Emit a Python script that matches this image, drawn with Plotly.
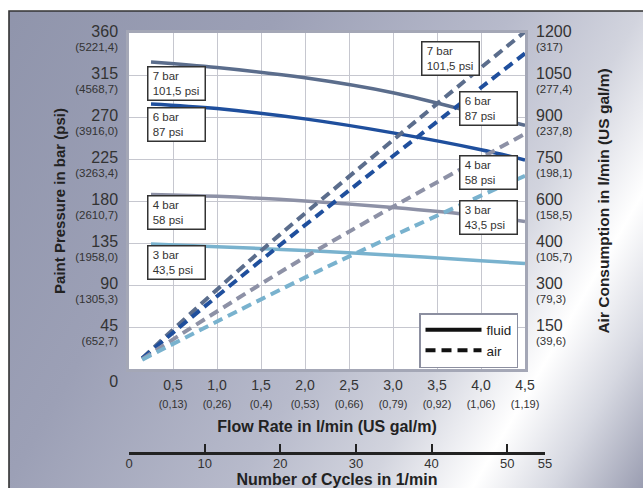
import base64
import plotly.graph_objects as go

# ---------------- data ----------------
flow_fluid = [0.25, 1.0, 2.0, 3.0, 4.0, 4.5]
fluid_7bar = [329, 323, 312, 296, 273, 261]
fluid_6bar = [284, 279, 268, 253, 235, 224]
fluid_4bar = [187, 185, 180, 173, 164, 158]
fluid_3bar = [134, 131, 127, 122, 116, 113]

air_7bar_x = [0.15, 1.4, 4.5]
air_7bar = [38, 395, 1205]
air_6bar_x = [0.15, 1.67, 4.5]
air_6bar = [38, 431, 1127]
air_4bar_x = [0.15, 2.01, 4.5]
air_4bar = [35, 401, 840]
air_3bar_x = [0.15, 2.18, 4.5]
air_3bar = [33, 354, 690]

flow_ticks = [0.5, 1.0, 1.5, 2.0, 2.5, 3.0, 3.5, 4.0, 4.5]
flow_main = ["0,5", "1,0", "1,5", "2,0", "2,5", "3,0", "3,5", "4,0", "4,5"]
flow_gal = ["(0,13)", "(0,26)", "(0,4)", "(0,53)", "(0,66)", "(0,79)", "(0,92)", "(1,06)", "(1,19)"]

pres_ticks = [0, 45, 90, 135, 180, 225, 270, 315, 360]
pres_main = ["0", "45", "90", "135", "180", "225", "270", "315", "360"]
pres_psi = ["", "(652,7)", "(1305,3)", "(1958,0)", "(2610,7)", "(3263,4)", "(3916,0)", "(4568,7)", "(5221,4)"]

air_ticks = [150, 300, 450, 600, 750, 900, 1050, 1200]
air_main = ["150", "300", "400", "600", "750", "900", "1050", "1200"]
air_gal = ["(39,6)", "(79,3)", "(105,7)", "(158,5)", "(198,1)", "(237,8)", "(277,4)", "(317)"]

cycle_ticks = [0, 10, 20, 30, 40, 50, 55]
cycle_text = ["0", "10", "20", "30", "40", "50", "55"]

labels_left = ["7 bar<br>101,5 psi", "6 bar<br>87 psi", "4 bar<br>58 psi", "3 bar<br>43,5 psi"]
labels_right = ["7 bar<br>101,5 psi", "6 bar<br>87 psi", "4 bar<br>58 psi", "3 bar<br>43,5 psi"]

# ---------------- style ----------------
FONT = "Liberation Sans, Arial, sans-serif"
C7, C6, C4, C3 = "#5b6d8c", "#1f4f9d", "#8d91a6", "#79b2ce"
W, H = 643, 488
ML, MR, MT, MB = 129, 98, 33, 35
PW, PH = W - ML - MR, H - MT - MB

fig = go.Figure()

for yv, c in [(fluid_7bar, C7), (fluid_6bar, C6), (fluid_4bar, C4), (fluid_3bar, C3)]:
    fig.add_trace(go.Scatter(x=flow_fluid, y=yv, mode="lines", line=dict(color=c, width=3.5, shape="spline"),
                             showlegend=False, hoverinfo="skip"))
for xv, yv, c in [(air_7bar_x, air_7bar, C7), (air_6bar_x, air_6bar, C6),
                  (air_4bar_x, air_4bar, C4), (air_3bar_x, air_3bar, C3)]:
    fig.add_trace(go.Scatter(x=xv, y=yv, yaxis="y2", mode="lines",
                             line=dict(color=c, width=4, dash="10px,6px", shape="spline"),
                             showlegend=False, hoverinfo="skip"))

fig.add_trace(go.Scatter(x=[None], y=[None], mode="lines", name="fluid",
                         line=dict(color="#111", width=4)))
fig.add_trace(go.Scatter(x=[None], y=[None], mode="lines", name="air",
                         line=dict(color="#111", width=4, dash="10px,6px")))
fig.add_trace(go.Scatter(x=[None], y=[None], xaxis="x3", yaxis="y3", mode="lines", showlegend=False))

def two_line(big, small, bigsize, smallsize):
    return f"<span style='font-size:{bigsize}px'>{big}</span><br><span style='font-size:{smallsize}px'>{small}</span>"

def zero_label(big, bigsize):
    return f"\u00a0<br><span style='font-size:{bigsize}px'>{big}</span>"

xd = (525 - ML) / PW
yd0 = (453 - 369) / PH

pres_text = [zero_label(a, 16) if b == "" else two_line(a, b, 16, 11.5) for a, b in zip(pres_main, pres_psi)]

fig.update_layout(
    width=W, height=H,
    margin=dict(l=ML, r=MR, t=MT, b=MB, pad=0, autoexpand=False),
    paper_bgcolor="white", plot_bgcolor="rgba(0,0,0,0)",
    font=dict(family=FONT, color="#333"),
    showlegend=True,
    legend=dict(x=(518 - ML) / PW, y=(453 - 368) / PH, xanchor="right", yanchor="bottom",
                bgcolor="white", bordercolor="#8c8fa0", borderwidth=1.5,
                font=dict(size=13.5, color="#222"), itemwidth=56, tracegroupgap=0),
    xaxis=dict(domain=[0, xd], range=[0, 4.5], anchor="y", automargin=False,
               tickmode="array", tickvals=flow_ticks,
               ticktext=[two_line(a, b, 14, 11) for a, b in zip(flow_main, flow_gal)],
               tickfont=dict(size=14, color="#333"), ticks="", ticklabelstandoff=1,
               showgrid=True, gridcolor="#c6c7cf", gridwidth=1, zeroline=False,
               showline=True, mirror=True, linecolor="#a4a7b6", linewidth=2.5,
               title=dict(text="Flow Rate in l/min (US gal/m)", standoff=13,
                          font=dict(size=16, color="#222", weight="bold"))),
    yaxis=dict(domain=[yd0, 1], range=[0, 360], anchor="x", automargin=False,
               tickmode="array", tickvals=pres_ticks, ticktext=pres_text,
               tickfont=dict(size=11, color="#333"), ticks="", ticklabelshift=7, ticklabelstandoff=6,
               showgrid=True, gridcolor="#c6c7cf", gridwidth=1, zeroline=False,
               showline=True, mirror=True, linecolor="#a4a7b6", linewidth=2.5,
               title=dict(text="Paint Pressure in bar (psi)", standoff=6,
                         font=dict(size=15, color="#222", weight="bold"))),
    yaxis2=dict(overlaying="y", side="right", anchor="x", range=[0, 1200], automargin=False,
                tickmode="array", tickvals=air_ticks,
                ticktext=[two_line(a, b, 16, 11.5) for a, b in zip(air_main, air_gal)],
                tickfont=dict(size=11, color="#333"), ticks="", ticklabelshift=7, ticklabelstandoff=10,
                showgrid=False, zeroline=False, showline=False,
                title=dict(text="Air Consumption in l/min (US gal/m)", standoff=26,
                           font=dict(size=15.5, color="#222", weight="bold"))),
    xaxis3=dict(domain=[0, 1], range=[0, 55], anchor="free", position=0, automargin=False,
                tickmode="array", tickvals=cycle_ticks, ticktext=cycle_text,
                tickfont=dict(size=13, color="#333"),
                ticks="inside", ticklen=8, tickwidth=2, tickcolor="#222", ticklabelstandoff=-2,
                showgrid=False, zeroline=False, showline=True, linecolor="#222", linewidth=2.5,
                title=dict(text="Number of Cycles in 1/min", standoff=3,
                           font=dict(size=16, color="#222", weight="bold"))),
    yaxis3=dict(domain=[0, 0.002], range=[0, 1], anchor="x3", visible=False,
                showgrid=False, zeroline=False, automargin=False),
)

# white plotting area
fig.add_shape(type="rect", xref="x domain", yref="y domain", x0=0, x1=1, y0=0, y1=1,
              fillcolor="white", line=dict(width=0), layer="below")

# label boxes (positions in axis units)
left_tops = [324.6, 280.7, 186.4, 132.9]
right_pos = [(3.32, 351.4), (3.75, 297.9), (3.75, 229.3), (3.75, 181.1)]
annots = []
for txt, top in zip(labels_left, left_tops):
    annots.append((0.20, top, txt))
for txt, (x, top) in zip(labels_right, right_pos):
    annots.append((x, top, txt))
for x, y, txt in annots:
    t = "<br>".join("\u00a0" + s for s in txt.split("<br>"))
    fig.add_annotation(x=x, y=y, xref="x", yref="y", xanchor="left", yanchor="top",
                       text=t, showarrow=False, align="left", valign="middle",
                       width=54, height=30, borderpad=1,
                       bgcolor="white", bordercolor="#333", borderwidth=1.5,
                       font=dict(size=11.5, color="#333", family=FONT))

# gradient background panel
svg = f'''<svg xmlns="http://www.w3.org/2000/svg" width="{W}" height="{H}" viewBox="0 0 {W} {H}" preserveAspectRatio="none">
<defs><linearGradient id="g" gradientUnits="userSpaceOnUse" x1="0" y1="0" x2="694" y2="401">
<stop offset="0" stop-color="#8f94ab"/>
<stop offset="0.31" stop-color="#9ca0b6"/>
<stop offset="0.56" stop-color="#b7bacb"/>
<stop offset="0.70" stop-color="#d2d4de"/>
<stop offset="0.815" stop-color="#ffffff"/>
<stop offset="0.90" stop-color="#d6d8e1"/>
<stop offset="1" stop-color="#9a9db1"/>
</linearGradient></defs>
<rect width="{W}" height="{H}" fill="#ffffff"/>
<rect x="9" y="11" width="{W-9}" height="{H-11}" fill="url(#g)"/>
<path d="M9,{H} V11 H{W}" fill="none" stroke="#333" stroke-width="1.6"/>
</svg>'''
src = "data:image/svg+xml;base64," + base64.b64encode(svg.encode()).decode()
fig.add_layout_image(dict(source=src, xref="paper", yref="paper",
                          x=-ML / PW, y=1 + MT / PH, sizex=W / PW, sizey=H / PH,
                          xanchor="left", yanchor="top", sizing="stretch", layer="below"))

fig.write_html("out.html", config={"displayModeBar": False},
               post_script="document.body.style.margin='0px';")
